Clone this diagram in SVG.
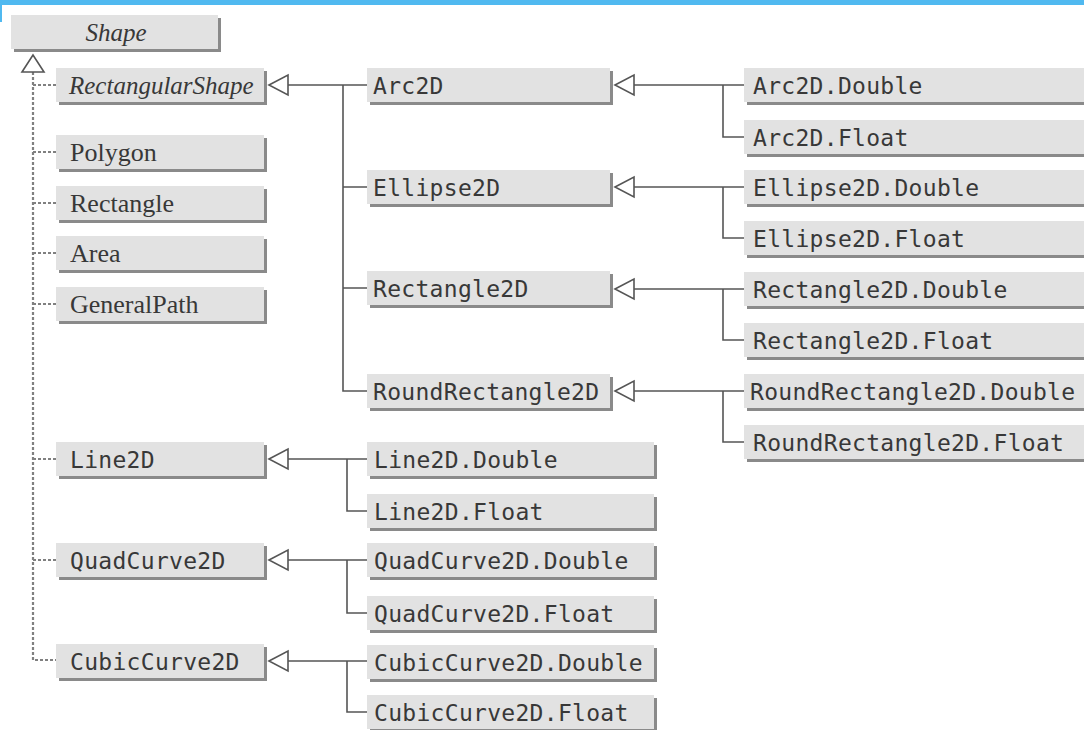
<svg xmlns="http://www.w3.org/2000/svg" width="1084" height="730" viewBox="0 0 1084 730">
<defs>
<style>
.sh{fill:#8a8a8a}
.bx{fill:#e2e2e2}
.mono{font-family:"DejaVu Sans Mono","Liberation Mono",monospace;font-size:23px;letter-spacing:0.3px;fill:#383838}
.ser{font-family:"Liberation Serif","Times New Roman",serif;font-size:26px;fill:#383838}
.it{font-style:italic;font-size:25px}
.ln{stroke:#555;stroke-width:1.6;fill:none}
.dl{stroke:#808080;stroke-width:2.2;fill:none;stroke-dasharray:3 2}
.tri{fill:#fff;stroke:#555;stroke-width:1.6}
</style>
</defs>
<rect x="0" y="0" width="1084" height="5" fill="#50b9f0"/>
<rect x="0" y="0" width="2" height="22" fill="#50b9f0"/>

<g id="connectors">
<path class="dl" d="M33,72 V660 H56 M33,85 H56 M33,152 H56 M33,203 H56 M33,253 H56 M33,304 H56 M33,459 H56 M33,560 H56"/>
<polygon class="tri" points="33,55 22,72 44,72"/>
<path class="ln" d="M287,85 H367 M343,85 V391 H367 M343,187 H367 M343,288 H367"/>
<polygon class="tri" points="269,85 288,75 288,95"/>
<path class="ln" d="M634,85 H744 M723,85 V137 H744"/>
<polygon class="tri" points="615,85 634,75 634,95"/>
<path class="ln" d="M634,187 H744 M723,187 V238 H744"/>
<polygon class="tri" points="615,187 634,177 634,197"/>
<path class="ln" d="M634,289 H744 M723,289 V340 H744"/>
<polygon class="tri" points="615,289 634,279 634,299"/>
<path class="ln" d="M634,391 H744 M723,391 V442 H744"/>
<polygon class="tri" points="615,391 634,381 634,401"/>
<path class="ln" d="M287,459 H367 M347,459 V511 H367"/>
<polygon class="tri" points="269,459 288,449 288,469"/>
<path class="ln" d="M287,560 H367 M347,560 V613 H367"/>
<polygon class="tri" points="269,560 288,550 288,570"/>
<path class="ln" d="M287,661 H367 M347,661 V712 H367"/>
<polygon class="tri" points="269,661 288,651 288,671"/>
</g>

<g id="Shape"><rect class="sh" x="14" y="18" width="207" height="34"/><rect class="bx" x="11" y="15" width="207" height="34"/><text class="ser it" x="116" y="41" text-anchor="middle">Shape</text></g>
<g id="RectangularShape"><rect class="sh" x="59" y="71" width="208" height="34"/><rect class="bx" x="56" y="68" width="208" height="34"/><text class="ser it" x="69" y="94">RectangularShape</text></g>
<g id="Polygon"><rect class="sh" x="59" y="138" width="208" height="34"/><rect class="bx" x="56" y="135" width="208" height="34"/><text class="ser" x="70" y="161">Polygon</text></g>
<g id="Rectangle"><rect class="sh" x="59" y="189" width="208" height="34"/><rect class="bx" x="56" y="186" width="208" height="34"/><text class="ser" x="70" y="212">Rectangle</text></g>
<g id="Area"><rect class="sh" x="59" y="239" width="208" height="34"/><rect class="bx" x="56" y="236" width="208" height="34"/><text class="ser" x="70" y="262">Area</text></g>
<g id="GeneralPath"><rect class="sh" x="59" y="290" width="208" height="34"/><rect class="bx" x="56" y="287" width="208" height="34"/><text class="ser" x="70" y="313">GeneralPath</text></g>

<g id="Line2D"><rect class="sh" x="59" y="445" width="208" height="34"/><rect class="bx" x="56" y="442" width="208" height="34"/><text class="mono" x="70" y="468">Line2D</text></g>
<g id="QuadCurve2D"><rect class="sh" x="59" y="546" width="208" height="34"/><rect class="bx" x="56" y="543" width="208" height="34"/><text class="mono" x="70" y="569">QuadCurve2D</text></g>
<g id="CubicCurve2D"><rect class="sh" x="59" y="647" width="208" height="34"/><rect class="bx" x="56" y="644" width="208" height="34"/><text class="mono" x="70" y="670">CubicCurve2D</text></g>

<g id="Arc2D"><rect class="sh" x="370" y="71" width="243" height="34"/><rect class="bx" x="367" y="68" width="243" height="34"/><text class="mono" x="373" y="94">Arc2D</text></g>
<g id="Ellipse2D"><rect class="sh" x="370" y="173" width="243" height="34"/><rect class="bx" x="367" y="170" width="243" height="34"/><text class="mono" x="373" y="196">Ellipse2D</text></g>
<g id="Rectangle2D"><rect class="sh" x="370" y="274" width="243" height="34"/><rect class="bx" x="367" y="271" width="243" height="34"/><text class="mono" x="373" y="297">Rectangle2D</text></g>
<g id="RoundRectangle2D"><rect class="sh" x="370" y="377" width="243" height="34"/><rect class="bx" x="367" y="374" width="243" height="34"/><text class="mono" x="373" y="400">RoundRectangle2D</text></g>

<g id="Arc2D.Double"><rect class="sh" x="747" y="71" width="350" height="34"/><rect class="bx" x="744" y="68" width="350" height="34"/><text class="mono" x="753" y="94">Arc2D.Double</text></g>
<g id="Arc2D.Float"><rect class="sh" x="747" y="123" width="350" height="34"/><rect class="bx" x="744" y="120" width="350" height="34"/><text class="mono" x="753" y="146">Arc2D.Float</text></g>
<g id="Ellipse2D.Double"><rect class="sh" x="747" y="173" width="350" height="34"/><rect class="bx" x="744" y="170" width="350" height="34"/><text class="mono" x="753" y="196">Ellipse2D.Double</text></g>
<g id="Ellipse2D.Float"><rect class="sh" x="747" y="224" width="350" height="34"/><rect class="bx" x="744" y="221" width="350" height="34"/><text class="mono" x="753" y="247">Ellipse2D.Float</text></g>
<g id="Rectangle2D.Double"><rect class="sh" x="747" y="275" width="350" height="34"/><rect class="bx" x="744" y="272" width="350" height="34"/><text class="mono" x="753" y="298">Rectangle2D.Double</text></g>
<g id="Rectangle2D.Float"><rect class="sh" x="747" y="326" width="350" height="34"/><rect class="bx" x="744" y="323" width="350" height="34"/><text class="mono" x="753" y="349">Rectangle2D.Float</text></g>
<g id="RoundRectangle2D.Double"><rect class="sh" x="747" y="377" width="350" height="34"/><rect class="bx" x="744" y="374" width="350" height="34"/><text class="mono" x="750" y="400">RoundRectangle2D.Double</text></g>
<g id="RoundRectangle2D.Float"><rect class="sh" x="747" y="428" width="350" height="34"/><rect class="bx" x="744" y="425" width="350" height="34"/><text class="mono" x="753" y="451">RoundRectangle2D.Float</text></g>

<g id="Line2D.Double"><rect class="sh" x="370" y="445" width="287" height="34"/><rect class="bx" x="367" y="442" width="287" height="34"/><text class="mono" x="374" y="468">Line2D.Double</text></g>
<g id="Line2D.Float"><rect class="sh" x="370" y="497" width="287" height="34"/><rect class="bx" x="367" y="494" width="287" height="34"/><text class="mono" x="374" y="520">Line2D.Float</text></g>
<g id="QuadCurve2D.Double"><rect class="sh" x="370" y="546" width="287" height="34"/><rect class="bx" x="367" y="543" width="287" height="34"/><text class="mono" x="374" y="569">QuadCurve2D.Double</text></g>
<g id="QuadCurve2D.Float"><rect class="sh" x="370" y="599" width="287" height="34"/><rect class="bx" x="367" y="596" width="287" height="34"/><text class="mono" x="374" y="622">QuadCurve2D.Float</text></g>
<g id="CubicCurve2D.Double"><rect class="sh" x="370" y="648" width="287" height="34"/><rect class="bx" x="367" y="645" width="287" height="34"/><text class="mono" x="374" y="671">CubicCurve2D.Double</text></g>
<g id="CubicCurve2D.Float"><rect class="sh" x="370" y="698" width="287" height="34"/><rect class="bx" x="367" y="695" width="287" height="34"/><text class="mono" x="374" y="721">CubicCurve2D.Float</text></g>
</svg>
